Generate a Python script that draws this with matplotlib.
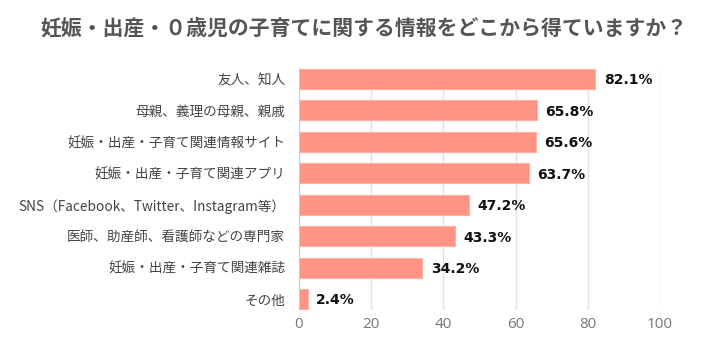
import matplotlib
matplotlib.use("Agg")
import matplotlib.pyplot as plt

categories = ["友人、知人", "母親、義理の母親、親戚", "妊娠・出産・子育て関連情報サイト",
              "妊娠・出産・子育て関連アプリ", "SNS（Facebook、Twitter、Instagram等）",
              "医師、助産師、看護師などの専門家", "妊娠・出産・子育て関連雑誌", "その他"]
values = [82.1, 65.8, 65.6, 63.7, 47.2, 43.3, 34.2, 2.4]
xticks = [0, 20, 40, 60, 80, 100]
title = "妊娠・出産・０歳児の子育てに関する情報をどこから得ていますか？"

plt.rcParams['font.family'] = ['Noto Sans CJK JP', 'DejaVu Sans']

fig = plt.figure(figsize=(7.27, 3.53), dpi=100)
ax = fig.add_axes([299/727, (353-310)/353, 361/727, 242/353])

y = list(range(len(categories)))
ax.barh(y, values, height=0.64, color='#ff9384', edgecolor='#ffb0a4', linewidth=0.8, zorder=3)
for yi, v in zip(y, values):
    ax.annotate(f"{v}%", (v, yi), xytext=(6, -1), textcoords='offset points',
                va='center', ha='left', fontsize=10, fontweight='bold', color='#111111',
                family=['DejaVu Sans'])

ax.set_xlim(0, 100)
ax.set_ylim(7.35, -0.35)
ax.set_xticks(xticks)
ax.set_yticks(y)
ax.set_yticklabels(categories, fontsize=9.8, color='#444444')
ax.tick_params(axis='y', length=0, pad=10)
ax.tick_params(axis='x', length=0, pad=5, labelsize=11, labelcolor='#777777')
for lab in ax.get_xticklabels():
    lab.set_family(['Open Sans', 'DejaVu Sans'])
ax.grid(axis='x', color='#e2e2e2', linewidth=1, zorder=0)
for s in ['top', 'right', 'bottom']:
    ax.spines[s].set_visible(False)
ax.spines['left'].set_color('#cccccc')
ax.spines['left'].set_zorder(4)

fig.text(0.5, 1 - 28/353, title, ha='center', va='center', fontsize=15,
         fontweight='bold', color='#555555')

fig.savefig("out.png", dpi=100)
